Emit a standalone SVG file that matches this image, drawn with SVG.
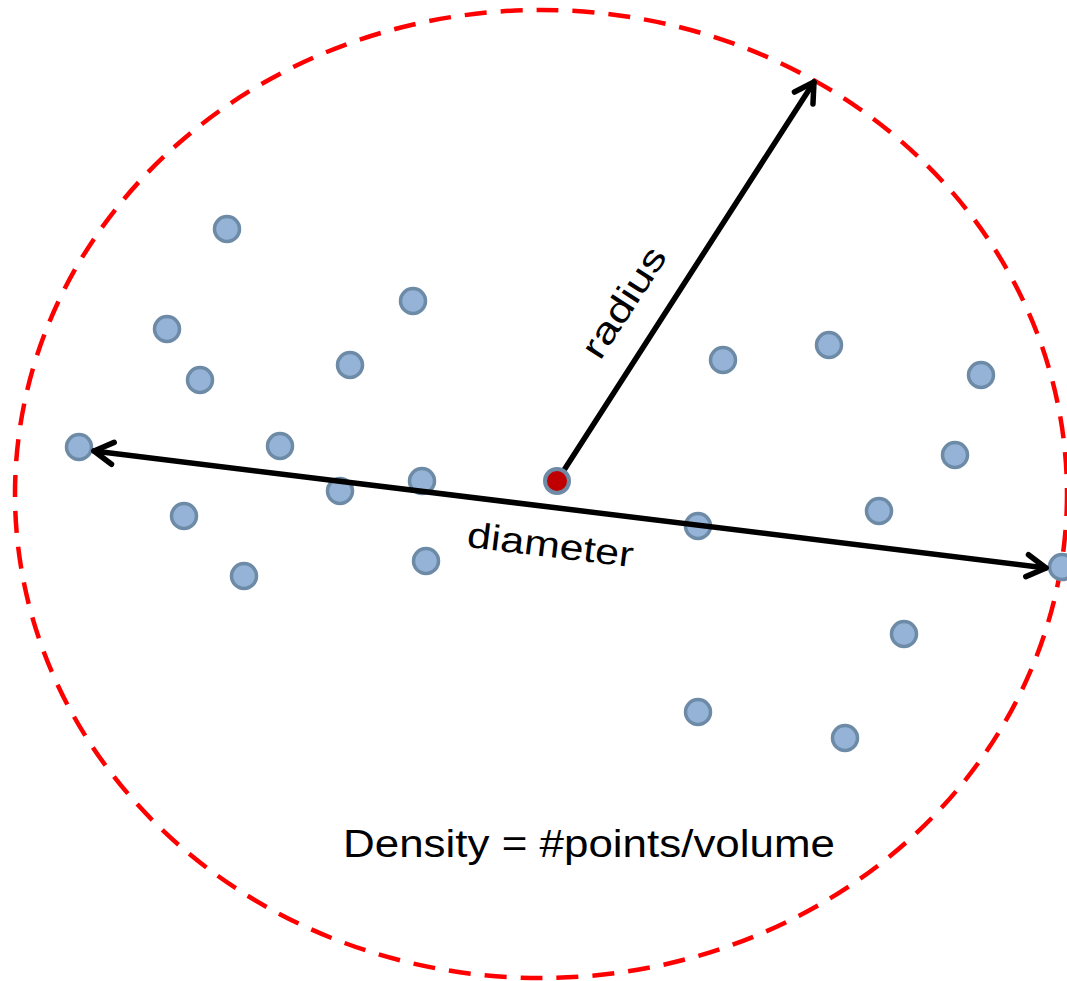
<svg xmlns="http://www.w3.org/2000/svg" width="1067" height="981" viewBox="0 0 1067 981">
<style>
.pt{fill:#95b3d7;stroke:#6d8aa6;stroke-width:3.5}
.ln{stroke:#000;stroke-width:5.5;fill:none;stroke-linecap:round}
.tx{font-family:"Liberation Sans",Arial,sans-serif;fill:#000}
</style>
<defs>
<marker id="ah" viewBox="0 0 30 30" refX="27" refY="15" markerWidth="30" markerHeight="30" markerUnits="userSpaceOnUse" orient="auto-start-reverse">
<path d="M8 4 L27 15 L8 26" fill="none" stroke="#000" stroke-width="5.5" stroke-linecap="round" stroke-linejoin="round"/>
</marker>
</defs>
<rect width="1067" height="981" fill="#fff"/>
<ellipse id="boundary" cx="541" cy="494" rx="526" ry="484" fill="none" stroke="#ff0000" stroke-width="4.5" stroke-dasharray="22,14"/>
<g id="points">
<circle class="pt" cx="227" cy="229" r="12.5"/>
<circle class="pt" cx="167" cy="329" r="12.5"/>
<circle class="pt" cx="200" cy="380" r="12.5"/>
<circle class="pt" cx="413" cy="301" r="12.5"/>
<circle class="pt" cx="350" cy="365" r="12.5"/>
<circle class="pt" cx="79" cy="447" r="12.5"/>
<circle class="pt" cx="280" cy="446" r="12.5"/>
<circle class="pt" cx="340" cy="491" r="12.5"/>
<circle class="pt" cx="422" cy="481" r="12.5"/>
<circle class="pt" cx="184" cy="516" r="12.5"/>
<circle class="pt" cx="244" cy="576" r="12.5"/>
<circle class="pt" cx="426" cy="561" r="12.5"/>
<circle class="pt" cx="723" cy="360" r="12.5"/>
<circle class="pt" cx="829" cy="345" r="12.5"/>
<circle class="pt" cx="981" cy="375" r="12.5"/>
<circle class="pt" cx="955" cy="455" r="12.5"/>
<circle class="pt" cx="879" cy="511" r="12.5"/>
<circle class="pt" cx="698" cy="526" r="12.5"/>
<circle class="pt" cx="1062" cy="567" r="12.5"/>
<circle class="pt" cx="904" cy="634" r="12.5"/>
<circle class="pt" cx="698" cy="712" r="12.5"/>
<circle class="pt" cx="845" cy="738" r="12.5"/>
</g>
<g id="connectors">
<line id="diameter-line" class="ln" x1="94" y1="451" x2="1046" y2="568" marker-start="url(#ah)" marker-end="url(#ah)"/>
<line id="radius-line" class="ln" x1="557" y1="481" x2="814" y2="82" marker-end="url(#ah)"/>
</g>
<g id="center">
<circle cx="557" cy="481" r="12" fill="#c00000" stroke="#6d8aa6" stroke-width="4"/>
</g>
<text class="tx" font-size="36" text-anchor="middle" textLength="125" lengthAdjust="spacingAndGlyphs" transform="translate(634,309) rotate(-57)">radius</text>
<text class="tx" font-size="36" text-anchor="middle" textLength="167" lengthAdjust="spacingAndGlyphs" transform="translate(549,557) rotate(7)">diameter</text>
<text class="tx" font-size="39" x="343" y="857" textLength="492" lengthAdjust="spacingAndGlyphs">Density = #points/volume</text>
</svg>
